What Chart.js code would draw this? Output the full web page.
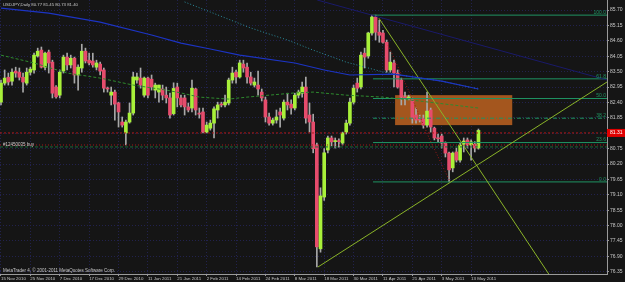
<!DOCTYPE html>
<html>
<head>
<meta charset="utf-8">
<script src="https://cdn.jsdelivr.net/npm/chart.js@4.4.0/dist/chart.umd.min.js"></script>
<style>
  html, body { margin: 0; padding: 0; background: #151515; overflow: hidden; }
  canvas { display: block; }
</style>
</head>
<body>
<canvas id="chart" width="625" height="282"></canvas>
<script>
/* USDJPY daily candles, 15 Nov 2010 .. 17 May 2011 (bar index 0..130) */
const opens  = [82.41,83.09,83.30,83.16,83.52,83.48,83.30,83.09,83.48,83.56, 84.06,84.27,83.66,84.20,83.84,82.95,82.66,83.52,84.02,83.74,
                83.98,83.38,83.63,84.23,83.91,83.88,83.66,83.77,83.56,82.91, 82.66,82.77,82.38,81.70,81.31,81.70,82.02,83.20,83.27,82.66,
                83.27,83.23,82.84,82.77,82.88,82.66,82.56,82.00,82.95,82.56, 82.56,82.24,82.20,82.88,82.02,82.06,81.34,81.48,81.66,82.13,
                82.34,82.31,82.38,83.20,83.48,83.31,83.77,83.66,83.31,83.02, 83.02,82.77,82.49,81.88,81.66,81.77,82.06,81.84,82.41,82.34,
                82.20,82.66,82.73,82.95,81.95,81.70,80.88,77.17,79.02,80.70, 81.13,81.00,81.02,80.95,81.34,81.66,82.41,83.09,82.95,84.16,
                84.06,84.88,85.45,84.91,84.88,84.55,83.56,83.81,83.45,83.20, 82.59,82.56,82.49,81.95,81.80,81.84,81.59,82.13,81.48,81.13,
                81.20,80.95,80.59,80.06,80.63,80.34,80.91,81.06,80.88,80.91, 80.77];
const highs  = [83.20,83.56,83.45,83.60,83.66,83.63,83.45,83.63,83.66,84.16, 84.34,84.38,84.20,84.27,83.91,83.00,83.56,84.09,84.16,84.09,
                84.02,83.74,84.48,84.34,84.16,84.16,83.91,83.84,83.63,82.95, 82.95,82.84,82.41,81.88,81.77,82.38,83.48,83.45,83.63,83.31,
                83.31,83.38,83.09,83.02,83.02,82.95,82.73,83.10,83.09,82.66, 82.66,82.38,83.20,82.91,82.20,82.20,81.70,81.77,82.24,82.41,
                82.41,82.66,83.27,83.66,83.56,83.91,83.91,83.81,83.48,83.27, 83.52,82.88,82.59,82.02,81.84,82.13,82.20,82.49,82.73,82.49,
                82.73,82.84,83.13,83.31,82.38,81.98,80.95,79.35,80.75,81.20, 81.20,81.13,81.10,81.34,81.77,82.56,83.02,83.27,84.20,84.34,
                84.91,85.52,85.52,85.34,84.98,84.63,84.20,83.91,83.56,83.27, 82.77,82.66,82.56,82.20,81.95,81.95,82.77,82.20,81.52,81.27,
                81.27,80.99,80.63,80.63,80.77,80.95,81.13,81.13,81.06,81.00, 81.45];
const lows   = [82.31,83.02,83.02,83.02,83.30,83.20,82.77,83.02,83.38,83.45, 84.02,83.63,83.56,83.45,82.56,82.55,82.56,83.45,83.56,83.63,
                83.09,82.84,83.48,83.81,83.74,83.66,83.56,83.38,82.77,82.77, 82.31,81.77,81.52,81.52,80.88,81.66,81.95,83.09,82.91,82.59,
                82.56,82.84,82.56,82.41,82.49,82.38,81.84,81.95,82.24,82.24, 81.95,82.06,82.06,81.95,81.84,81.31,81.31,81.41,81.13,81.84,
                82.24,82.24,82.31,83.09,83.09,83.27,83.48,83.09,83.02,82.95, 82.66,82.45,81.70,81.59,81.59,81.66,81.52,81.77,82.13,81.98,
                82.13,82.56,82.59,81.66,81.34,80.60,76.52,77.05,78.90,80.60, 80.85,80.77,80.80,80.88,81.27,81.59,82.34,82.77,82.88,83.63,
                83.98,84.80,84.63,84.55,84.52,83.48,83.48,82.95,82.91,82.31, 82.31,82.49,81.66,81.66,81.70,81.48,81.52,81.34,81.06,80.99,
                80.77,80.45,79.56,79.92,80.27,80.27,80.63,80.77,80.34,80.63, 80.73];
const closes = [83.09,83.27,83.13,83.48,83.45,83.30,83.13,83.48,83.59,84.09, 84.23,83.66,84.16,83.81,82.73,82.60,83.48,84.02,83.74,83.98,
                83.38,83.66,84.23,83.88,83.81,83.74,83.81,83.52,82.91,82.88, 82.77,82.34,82.06,81.59,81.70,82.02,83.31,83.31,83.02,83.27,
                82.66,82.95,83.02,83.02,82.66,82.56,81.95,82.90,82.56,82.31, 82.24,82.13,82.91,82.13,81.98,81.34,81.59,81.66,82.17,82.31,
                82.31,82.41,83.20,83.45,83.31,83.81,83.63,83.31,83.09,83.13, 82.88,82.56,81.88,81.66,81.77,81.88,81.95,82.41,82.31,82.20,
                82.66,82.77,82.95,81.84,81.70,80.75,77.24,79.06,80.60,81.13, 80.99,81.02,81.00,81.31,81.66,82.41,82.91,82.91,84.09,84.02,
                84.88,85.45,84.91,84.80,84.55,83.56,83.84,83.45,82.95,82.59, 82.56,82.59,81.84,81.77,81.77,81.59,82.09,81.52,81.13,81.10,
                80.95,80.59,79.99,80.59,80.34,80.88,81.02,80.88,80.99,80.77, 81.40];

const dateTickIdx = [0, 8, 16, 24, 32, 40, 48, 56, 64, 72, 80, 88, 96, 104, 112, 120, 128];
const dateLabels = ['15 Nov 2010', '25 Nov 2010', '7 Dec 2010', '17 Dec 2010', '29 Dec 2010', '11 Jan 2011',
                    '21 Jan 2011', '2 Feb 2011', '14 Feb 2011', '24 Feb 2011', '8 Mar 2011', '18 Mar 2011',
                    '30 Mar 2011', '11 Apr 2011', '21 Apr 2011', '3 May 2011', '13 May 2011'];
const priceTicks = [85.70, 85.15, 84.60, 84.05, 83.50, 82.95, 82.40, 81.85, 81.30, 80.75, 80.20,
                    79.65, 79.10, 78.55, 78.00, 77.45, 76.90, 76.35];

// moving averages, read at sample bars
const blueIdx  = [0, 13, 27, 41, 49, 57, 65, 80, 88, 95, 107, 120, 130];
const blueVal  = [85.77, 85.59, 85.27, 84.81, 84.52, 84.31, 84.09, 83.81, 83.56, 83.38, 83.41, 83.16, 82.88];
const tealIdx  = [50, 57, 68, 78, 85, 94, 104, 107, 120, 130];
const tealVal  = [85.99, 85.63, 85.06, 84.63, 84.27, 83.84, 83.49, 83.41, 83.16, 82.88];
const greenIdx = [0, 9, 18, 27, 36, 45, 49, 54, 62, 67, 73, 80, 85, 94, 104, 114, 130];
const greenVal = [84.09, 83.81, 83.45, 83.27, 83.02, 82.84, 82.74, 82.59, 82.52, 82.59, 82.66, 82.74, 82.77, 82.66, 82.59, 82.45, 82.20];

// drawn objects (bar index, price)
const navyIdx = [86.1, 165], navyVal = [86.06, 83.20];
const downIdx = [102.9, 149.5], downVal = [85.41, 76.20];
const upIdx   = [86.3, 165], upVal = [76.52, 83.13];
const arcIdx  = [105.4, 108.7, 112.7, 116.8, 122.3];
const arcVal  = [84.45, 83.49, 82.31, 81.06, 79.56];

const fibLevels = [0, 23.6, 38.2, 50, 61.8, 100];
const fibLabels = ['0.0', '23.6', '38.2', '50.0', '61.8', '100.0'];
const fibHigh = 85.52, fibLow = 79.56, fibFrom = 101.3;
const boxFrom = 107.3, boxTo = 139.2, boxTop = 82.66, boxBottom = 81.59;
const bidPrice = 81.31, stopPrice = 80.88, orderPrice = 80.81;

const xMin = -0.27, xMax = 165.0, yMin = 76.27, yMax = 86.06;

const FONT = 'Liberation Sans, Arial, sans-serif';
const TXT = '#c8c8c8';

const idx = opens.map((_, i) => i);
const pts = (xs, ys) => xs.map((x, i) => ({ x, y: ys[i] }));
const hline = (p, from) => [{ x: from, y: p }, { x: xMax, y: p }];

function lineDs(data, color, dash, width) {
  return { type: 'line', data, borderColor: color, borderWidth: width || 1, borderDash: dash || [],
           pointRadius: 0, fill: false, tension: 0, order: 0 };
}

const fibSets = fibLevels.map(l => lineDs(hline(fibLow + (fibHigh - fibLow) * l / 100, fibFrom),
  '#1f9463', l === 38.2 ? [4, 2, 1, 2] : []));

const overlay = {
  id: 'overlay',
  beforeDraw(chart) {
    const c = chart.ctx;
    c.save();
    c.fillStyle = '#151515';
    c.fillRect(0, 0, chart.width, chart.height);
    c.restore();
  },
  beforeDatasetsDraw(chart) {
    const { ctx: c, scales: { x, y } } = chart;
    const x1 = x.getPixelForValue(boxFrom), x2 = x.getPixelForValue(boxTo);
    const y1 = y.getPixelForValue(boxTop), y2 = y.getPixelForValue(boxBottom);
    c.save();
    c.fillStyle = '#a4561e';
    c.fillRect(x1, y1, x2 - x1, y2 - y1);
    c.restore();
  },
  afterDraw(chart) {
    const { ctx: c, scales: { x, y }, chartArea: a } = chart;
    c.save();
    c.textBaseline = 'middle';
    c.fillStyle = TXT;
    c.textAlign = 'left';
    c.font = '4.3px ' + FONT;
    c.fillText('USDJPY,Daily 80.77 81.45 80.73 81.40', 3, 5);
    c.font = '4.5px ' + FONT;
    c.fillText('MetaTrader 4, \u00a9 2001-2011 MetaQuotes Software Corp.', 3, 271);
    c.fillText('#12450035 buy', 3, y.getPixelForValue(stopPrice));
    // fibo level labels
    c.font = '5px ' + FONT;
    c.fillStyle = '#1f9463';
    c.textAlign = 'right';
    c.textBaseline = 'bottom';
    fibLevels.forEach((l, k) => {
      const py = y.getPixelForValue(fibLow + (fibHigh - fibLow) * l / 100);
      c.fillText(fibLabels[k], a.right - 1, py);
    });
    // price tag on the axis
    const py = y.getPixelForValue(bidPrice);
    c.fillStyle = '#e00000';
    c.fillRect(a.right, py - 4, chart.width - a.right, 8);
    c.fillStyle = '#ffffff';
    c.textAlign = 'left';
    c.textBaseline = 'middle';
    c.fillText(bidPrice.toFixed(2), a.right + 3, py);
    c.restore();
  }
};

new Chart(document.getElementById('chart'), {
  type: 'bar',
  data: {
    datasets: [
      lineDs(pts(blueIdx, blueVal), '#1c34c4', [], 1.2),
      lineDs(pts(tealIdx, tealVal), '#2a8c9c', [1, 2], 1),
      lineDs(pts(greenIdx, greenVal), '#2e8a2e', [3, 2], 1),
      lineDs(pts(navyIdx, navyVal), '#1a1a6a', [], 1),
      lineDs(pts(downIdx, downVal), '#8ab428', [], 1),
      lineDs(pts(upIdx, upVal), '#8ab428', [], 1),
      lineDs(pts(arcIdx, arcVal), '#a01818', [1, 2], 1),
      ...fibSets,
      lineDs(hline(bidPrice, xMin), '#b01818', [2, 2], 1),
      lineDs(hline(stopPrice, xMin), '#a01818', [1, 2], 1),
      lineDs(hline(orderPrice, xMin), '#1a6a3a', [3, 2], 1),
      {
        type: 'bar', order: 3, grouped: false, barThickness: 1,
        data: idx.map(i => ({ x: i, y: [lows[i], highs[i]] })),
        backgroundColor: '#a8a8a8'
      },
      {
        type: 'bar', order: 2, grouped: false, barThickness: 3, minBarLength: 1,
        data: idx.map(i => ({ x: i, y: [opens[i], closes[i]] })),
        backgroundColor: idx.map(i => closes[i] >= opens[i] ? '#a8f03a' : '#e64c6c')
      }
    ]
  },
  options: {
    responsive: false,
    devicePixelRatio: 1,
    animation: false,
    layout: { padding: 0 },
    plugins: { legend: { display: false }, tooltip: { enabled: false } },
    scales: {
      x: {
        type: 'linear', min: xMin, max: xMax, offset: false,
        afterFit: s => { s.height = 8; s.paddingLeft = 0; s.paddingRight = 0; },
        afterBuildTicks: s => { s.ticks = dateTickIdx.map(v => ({ value: v })); },
        ticks: {
          callback: v => dateLabels[dateTickIdx.indexOf(v)],
          align: 'start', padding: 0, maxRotation: 0, autoSkip: false,
          color: TXT, font: { size: 4.4, family: FONT }
        },
        grid: { color: '#22224e', tickColor: '#9a9a9a', tickLength: 2, offset: false },
        border: { display: true, color: '#9a9a9a', dash: [1, 2] }
      },
      y: {
        type: 'linear', position: 'right', min: yMin, max: yMax,
        afterFit: s => { s.width = 18; s.paddingTop = 0; s.paddingBottom = 0; },
        afterBuildTicks: s => { s.ticks = priceTicks.map(v => ({ value: v })); },
        ticks: {
          callback: v => v.toFixed(2), padding: 1,
          color: TXT, font: { size: 5, family: FONT }
        },
        grid: { color: '#22224e', tickColor: '#9a9a9a', tickLength: 2 },
        border: { display: true, color: '#9a9a9a', dash: [1, 2] }
      }
    }
  },
  plugins: [overlay]
});
</script>
</body>
</html>
